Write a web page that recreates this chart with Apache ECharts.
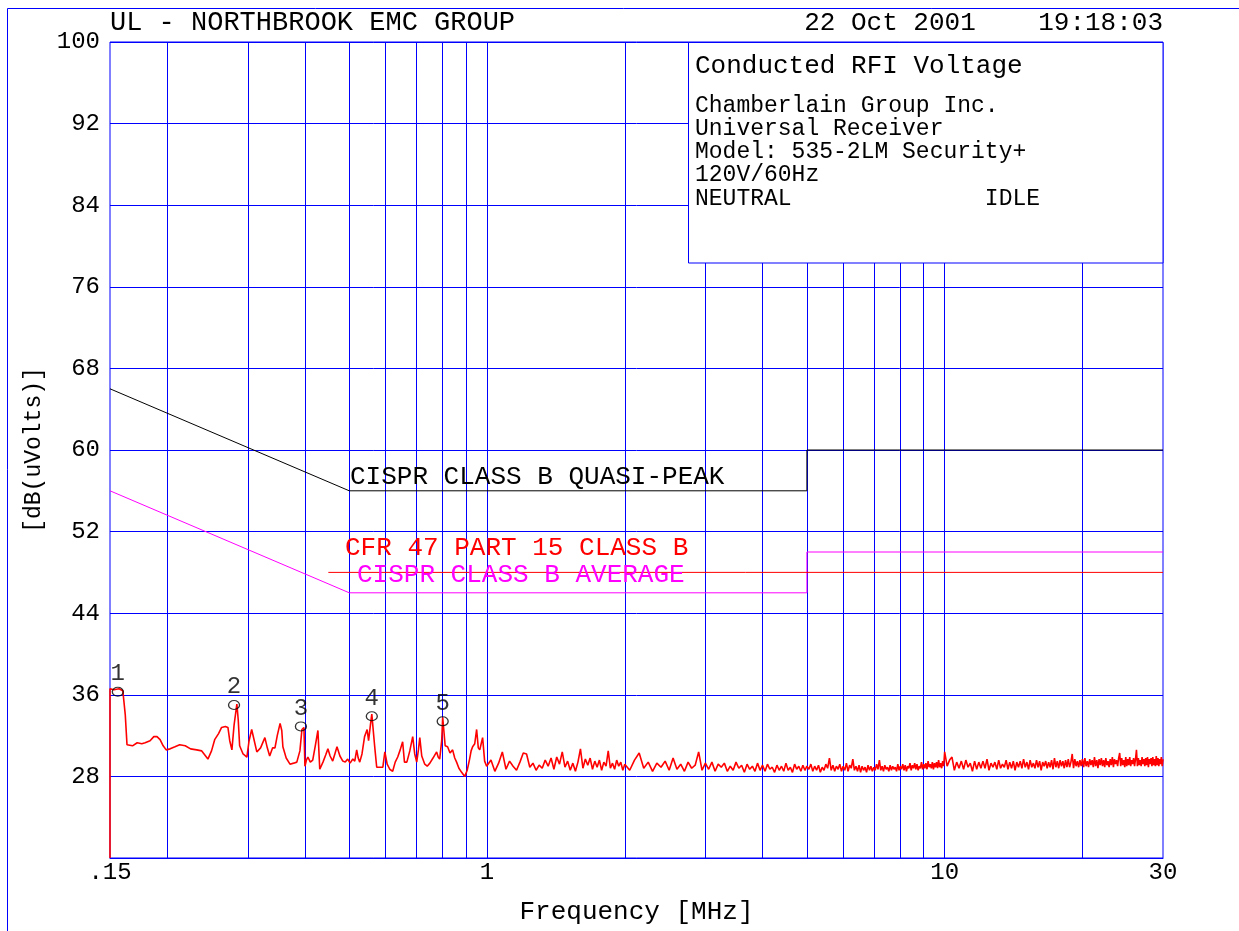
<!DOCTYPE html>
<html>
<head>
<meta charset="utf-8">
<title>Conducted RFI Voltage</title>
<script src="https://cdn.jsdelivr.net/npm/echarts@6/dist/echarts.min.js"></script>
<style>
  html, body { margin: 0; padding: 0; background: #fff; }
  #chart { width: 1239px; height: 931px; }
</style>
</head>
<body>
<div id="chart"></div>
<script>
// measured trace, 0.15 - 1 MHz
const lowFreq = [
  0.150,0.150,0.153,0.157,0.160,0.162,0.1634,0.168,0.172,0.176,
  0.179,0.1835,0.187,0.190,0.193,0.196,0.199,0.203,0.208,0.213,
  0.219,0.225,0.232,0.238,0.2455,0.250,0.254,0.259,0.263,0.268,
  0.2715,0.274,0.277,0.280,0.284,0.286,0.288,0.293,0.2987,0.302,
  0.306,0.310,0.314,0.320,0.327,0.331,0.335,0.340,0.344,0.348,
  0.353,0.356,0.358,0.364,0.371,0.378,0.384,0.390,0.394,0.398,
  0.400,0.403,0.406,0.411,0.416,0.421,0.427,0.431,0.438,0.444,
  0.449,0.454,0.460,0.465,0.470,0.477,0.484,0.490,0.496,0.502,
  0.509,0.514,0.519,0.523,0.527,0.533,0.540,0.547,0.551,0.556,
  0.560,0.563,0.568,0.574,0.583,0.592,0.598,0.605,0.613,0.622,
  0.630,0.638,0.646,0.654,0.660,0.668,0.678,0.688,0.695,0.702,
  0.708,0.713,0.720,0.731,0.740,0.750,0.762,0.776,0.782,0.788,
  0.796,0.800,0.804,0.810,0.820,0.830,0.841,0.850,0.858,0.868,
  0.880,0.894,0.905,0.916,0.923,0.930,0.940,0.949,0.957,0.964,
  0.971,0.978,0.988,0.998
];
const lowLevel = [
  20,36.6,36.5,36.6,36.4,34.0,31.1,31.0,31.3,31.2,
  31.3,31.5,31.9,31.9,31.6,31.0,30.6,30.7,30.9,31.1,
  31.0,30.7,30.6,30.5,29.7,30.5,31.6,32.2,32.8,32.9,
  32.8,31.5,30.6,33.0,35.1,33.5,31.0,30.2,29.9,31.5,
  32.6,31.5,30.4,30.8,31.8,30.8,30.0,30.8,30.8,32.0,
  33.2,32.5,30.9,29.8,29.2,29.3,29.4,30.5,32.6,32.8,
  29.0,29.6,29.9,29.4,29.6,30.9,32.5,28.7,29.4,30.1,
  30.7,30.0,29.5,30.2,30.9,30.0,29.5,29.4,29.7,29.3,
  29.7,29.5,30.6,29.8,29.4,30.2,31.9,32.6,31.5,33.0,
  34.1,34.0,31.0,28.9,28.9,28.9,30.4,29.2,28.7,28.5,
  29.4,29.9,30.6,31.4,29.4,29.4,30.5,31.9,30.2,29.4,
  30.6,31.8,30.0,29.2,29.0,29.3,29.8,30.4,29.9,29.7,
  31.5,33.8,33.9,31.0,30.9,30.3,30.6,29.8,29.4,28.8,
  28.4,28.0,28.6,29.7,30.5,30.9,31.2,32.6,30.8,30.6,
  31.2,31.8,29.5,29.0
];

// 1 - 5 MHz
const midFreq = [
  1.02,1.04,1.06,1.08,1.10,1.12,1.14,1.16,1.18,1.20,
  1.22,1.24,1.26,1.28,1.30,1.32,1.34,1.36,1.38,1.40,
  1.42,1.44,1.46,1.48,1.50,1.52,1.54,1.56,1.58,1.60,
  1.62,1.64,1.66,1.68,1.70,1.72,1.74,1.76,1.78,1.80,
  1.82,1.84,1.86,1.88,1.90,1.92,1.94,1.96,1.98,2.00,
  2.05,2.10,2.15,2.20,2.25,2.30,2.35,2.40,2.45,2.50,
  2.55,2.60,2.65,2.70,2.75,2.80,2.85,2.90,2.95,3.00,
  3.05,3.10,3.15,3.20,3.25,3.30,3.35,3.40,3.45,3.50,
  3.55,3.60,3.65,3.70,3.75,3.80,3.85,3.90,3.95,4.00,
  4.05,4.10,4.15,4.20,4.25,4.30,4.35,4.40,4.45,4.50,
  4.55,4.60,4.65,4.70,4.75,4.80,4.85,4.90,4.95,5.00
];
const midLevel = [
  29.6,28.5,29.3,30.4,28.7,29.5,29.0,28.6,29.4,30.3,
  30.2,28.9,29.3,28.6,29.1,28.8,29.6,29.0,29.8,28.7,
  29.9,29.2,30.4,28.9,29.5,28.6,29.3,28.5,29.4,30.7,
  28.8,29.7,29.1,29.8,28.7,29.5,28.9,29.6,28.6,29.4,
  29.0,30.5,28.8,29.3,28.7,29.6,29.0,29.4,28.6,29.2,
  28.6,29.6,30.3,28.8,29.4,28.5,29.3,28.9,29.5,28.6,
  29.8,28.7,29.2,28.5,29.4,28.8,29.1,30.4,28.6,29.3,
  28.7,29.4,28.5,29.2,28.9,29.3,28.5,29.0,28.6,29.4,
  28.8,29.1,28.4,29.2,28.7,29.0,28.5,29.3,28.6,29.1,
  28.5,29.2,28.7,28.9,28.4,29.1,28.6,29.0,28.5,29.3,
  28.6,28.9,28.4,29.2,28.7,29.0,28.5,29.1,28.6,29.0
];

// 5 - 10 MHz
const upperFreq = [
  5.05,5.10,5.15,5.20,5.25,5.30,5.35,5.40,5.45,5.50,
  5.55,5.60,5.65,5.70,5.75,5.80,5.85,5.90,5.95,6.00,
  6.05,6.10,6.15,6.20,6.25,6.30,6.35,6.40,6.45,6.50,
  6.55,6.60,6.65,6.70,6.75,6.80,6.85,6.90,6.95,7.00,
  7.05,7.10,7.15,7.20,7.25,7.30,7.35,7.40,7.45,7.50,
  7.55,7.60,7.65,7.70,7.75,7.80,7.85,7.90,7.95,8.00,
  8.05,8.10,8.15,8.20,8.25,8.30,8.35,8.40,8.45,8.50,
  8.55,8.60,8.65,8.70,8.75,8.80,8.85,8.90,8.95,9.00,
  9.05,9.10,9.15,9.20,9.25,9.30,9.35,9.40,9.45,9.50,
  9.55,9.60,9.65,9.70,9.75,9.80,9.85,9.90,9.95,10.00
];
const upperLevel = [
  28.7,29.2,28.5,29.0,28.6,29.1,28.4,28.9,28.6,29.2,
  28.8,29.8,28.6,29.1,28.5,29.0,28.7,29.2,28.5,29.0,
  28.6,29.3,28.5,29.1,28.8,29.7,28.6,29.0,28.5,29.1,
  28.4,29.0,28.6,28.9,28.4,29.1,28.6,29.0,28.5,28.9,
  28.6,29.2,28.7,29.6,28.6,29.0,28.5,29.1,28.7,28.9,
  28.5,29.1,28.6,29.0,28.7,28.9,28.5,29.2,28.6,29.0,
  28.7,29.2,28.6,29.1,28.5,29.0,28.8,29.3,28.6,29.1,
  28.8,29.3,28.7,29.2,28.6,29.0,28.8,29.4,28.7,29.2,
  28.8,29.3,28.7,29.5,28.9,29.2,28.8,29.4,28.7,29.3,
  28.9,29.4,28.8,29.6,28.9,29.3,28.8,29.5,29.0,30.4
];

// 10 - 30 MHz
const highFreq = [
  10.125,10.25,10.375,10.5,10.625,10.75,10.875,11,
  11.125,11.25,11.375,11.5,11.625,11.75,11.875,12,
  12.125,12.25,12.375,12.5,12.625,12.75,12.875,13,
  13.125,13.25,13.375,13.5,13.625,13.75,13.875,14,
  14.125,14.25,14.375,14.5,14.625,14.75,14.875,15,
  15.125,15.25,15.375,15.5,15.625,15.75,15.875,16,
  16.125,16.25,16.375,16.5,16.625,16.75,16.875,17,
  17.125,17.25,17.375,17.5,17.625,17.75,17.875,18,
  18.125,18.25,18.375,18.5,18.625,18.75,18.875,19,
  19.125,19.25,19.375,19.5,19.625,19.75,19.875,20,
  20.125,20.25,20.375,20.5,20.625,20.75,20.875,21,
  21.125,21.25,21.375,21.5,21.625,21.75,21.875,22,
  22.125,22.25,22.375,22.5,22.625,22.75,22.875,23,
  23.125,23.25,23.375,23.5,23.625,23.75,23.875,24,
  24.125,24.25,24.375,24.5,24.625,24.75,24.875,25,
  25.125,25.25,25.375,25.5,25.625,25.75,25.875,26,
  26.125,26.25,26.375,26.5,26.625,26.75,26.875,27,
  27.125,27.25,27.375,27.5,27.625,27.75,27.875,28,
  28.125,28.25,28.375,28.5,28.625,28.75,28.875,29,
  29.125,29.25,29.375,29.5,29.625,29.75,29.875,30
];
const highLevel = [
  29.0,29.6,29.9,28.6,29.4,28.8,29.5,28.7,
  29.6,28.9,29.3,28.5,29.5,28.7,29.4,28.8,
  29.5,28.8,29.7,28.6,29.3,28.9,29.4,28.7,
  29.6,28.8,29.2,28.9,29.6,28.7,29.4,28.8,
  29.5,28.6,29.4,28.9,29.5,28.8,29.7,28.9,
  29.4,28.7,29.6,28.9,29.3,28.8,29.6,28.9,
  29.5,28.6,29.4,29.0,29.5,28.8,29.4,28.9,
  29.6,28.7,29.8,28.9,29.5,28.8,29.6,29.0,
  29.5,28.8,29.6,28.9,29.7,28.9,29.4,30.2,
  28.8,29.7,29.0,29.5,28.9,29.6,29.0,29.7,
  28.9,29.8,29.0,29.5,28.9,29.7,29.1,29.6,
  28.9,29.9,29.0,29.6,28.8,29.7,29.1,29.8,
  29.0,29.6,28.9,29.8,29.1,29.5,28.9,29.7,
  29.1,29.9,28.9,29.7,29.2,29.6,29.0,29.8,
  30.3,29.0,29.8,29.1,29.6,28.9,29.9,29.0,
  29.7,29.1,29.9,29.0,29.6,29.2,29.8,29.0,
  29.7,30.6,29.0,29.8,29.1,29.6,29.0,29.9,
  29.2,29.7,29.0,29.8,29.1,29.9,28.9,29.7,
  29.2,29.8,29.0,29.9,29.1,29.7,29.0,30.0,
  29.1,29.8,29.0,29.7,29.2,29.9,29.0,29.7
];

// limit lines
const qpFreq = [0.15, 0.5, 5, 5, 30];
const qpLevel = [66, 56, 56, 60, 60];
const avgFreq = [0.15, 0.5, 5, 5, 30];
const avgLevel = [56, 46, 46, 50, 50];
const cfrFreq = [0.45, 30];
const cfrLevel = [48, 48];

// peak markers
const markerId = ['1', '2', '3', '4', '5'];
const markerFreq = [0.156, 0.280, 0.392, 0.560, 0.800];
const markerLevel = [36.3, 35.0, 32.9, 33.9, 33.4];

// axes
const xLabelValues = [0.15, 1, 10, 30];
const xGridValues = [0.2, 0.3, 0.4, 0.5, 0.6, 0.7, 0.8, 0.9, 1, 2, 3, 4, 5, 6, 7, 8, 9, 10, 20];

const FONT = '"Liberation Mono", "DejaVu Sans Mono", monospace';
const BLUE = '#0000ff';

function pairs(xs, ys) {
  return xs.map((x, i) => [x, ys[i]]);
}

const trace = pairs(lowFreq, lowLevel)
  .concat(pairs(midFreq, midLevel))
  .concat(pairs(upperFreq, upperLevel))
  .concat(pairs(highFreq, highLevel));

const myChart = echarts.init(document.getElementById('chart'));

const option = {
  animation: false,
  backgroundColor: '#fff',
  grid: {
    left: 110, top: 42, right: 76, bottom: 73,
    show: true, borderColor: BLUE, borderWidth: 1
  },
  xAxis: {
    type: 'log', logBase: 10, min: 0.15, max: 30,
    name: 'Frequency [MHz]', nameLocation: 'middle', nameGap: 41,
    nameTextStyle: { fontFamily: FONT, fontSize: 26, color: '#000' },
    axisLine: { lineStyle: { color: BLUE } },
    axisTick: { show: false, customValues: xGridValues },
    axisLabel: {
      customValues: xLabelValues,
      margin: 3, fontFamily: FONT, fontSize: 24, color: '#000',
      formatter: function (v) {
        const r = Math.round(v * 100) / 100;
        return r < 1 ? String(r).replace(/^0/, '') : String(r);
      }
    },
    splitLine: { show: true, lineStyle: { color: BLUE, width: 1 } }
  },
  yAxis: {
    type: 'value', min: 20, max: 100, interval: 8,
    name: '[dB(uVolts)]', nameLocation: 'middle', nameGap: 54, nameRotate: 90,
    nameTextStyle: { fontFamily: FONT, fontSize: 23, color: '#000' },
    axisLine: { show: false },
    axisTick: { show: false },
    axisLabel: {
      margin: 10, fontFamily: FONT, fontSize: 24, color: '#000',
      formatter: function (v) { return v === 20 ? '' : String(v); }
    },
    splitLine: { lineStyle: { color: BLUE, width: 1 } }
  },
  series: [
    {
      name: 'CISPR CLASS B QUASI-PEAK', type: 'line', data: pairs(qpFreq, qpLevel),
      showSymbol: false, silent: true, lineStyle: { color: '#000', width: 1 }, z: 3
    },
    {
      name: 'CISPR CLASS B AVERAGE', type: 'line', data: pairs(avgFreq, avgLevel),
      showSymbol: false, silent: true, lineStyle: { color: '#ff00ff', width: 1 }, z: 3
    },
    {
      name: 'CFR 47 PART 15 CLASS B', type: 'line', data: pairs(cfrFreq, cfrLevel),
      showSymbol: false, silent: true, lineStyle: { color: '#ff0000', width: 1 }, z: 3
    },
    {
      name: 'Trace', type: 'line', data: trace,
      showSymbol: false, silent: true, lineStyle: { color: '#ff0000', width: 1.6 }, z: 4
    },
    {
      name: 'Markers', type: 'scatter', data: pairs(markerFreq, markerLevel),
      symbol: 'circle', symbolSize: [11, 9], silent: true, z: 5,
      itemStyle: { color: 'rgba(0,0,0,0)', borderColor: '#000', borderWidth: 1.2 },
      label: {
        show: true, position: 'top', distance: 1,
        fontFamily: FONT, fontSize: 24, color: '#000',
        formatter: function (p) { return markerId[p.dataIndex]; }
      }
    }
  ],
  graphic: [
    // outer frame
    { type: 'line', shape: { x1: 7.5, y1: 8.5, x2: 1239, y2: 8.5 }, style: { stroke: BLUE, lineWidth: 1 }, z: 50 },
    { type: 'line', shape: { x1: 7.5, y1: 8.5, x2: 7.5, y2: 931 }, style: { stroke: BLUE, lineWidth: 1 }, z: 50 },
    { type: 'text', x: 110, y: 23, z: 50,
      style: { text: 'UL - NORTHBROOK EMC GROUP', font: '27px ' + FONT, fill: '#000', textVerticalAlign: 'middle' } },
    { type: 'text', x: 1163, y: 23, z: 50,
      style: { text: '22 Oct 2001    19:18:03', font: '26px ' + FONT, fill: '#000', textAlign: 'right', textVerticalAlign: 'middle' } },
    // info box
    { type: 'rect', shape: { x: 688.5, y: 42.5, width: 474.5, height: 220.5 },
      style: { fill: '#fff', stroke: BLUE, lineWidth: 1 }, z: 100 },
    { type: 'text', x: 695, y: 66, z: 101,
      style: { text: 'Conducted RFI Voltage', font: '26px ' + FONT, fill: '#000', textVerticalAlign: 'middle' } },
    { type: 'text', x: 695, y: 106, z: 101,
      style: { text: 'Chamberlain Group Inc.', font: '23px ' + FONT, fill: '#000', textVerticalAlign: 'middle' } },
    { type: 'text', x: 695, y: 129, z: 101,
      style: { text: 'Universal Receiver', font: '23px ' + FONT, fill: '#000', textVerticalAlign: 'middle' } },
    { type: 'text', x: 695, y: 152, z: 101,
      style: { text: 'Model: 535-2LM Security+', font: '23px ' + FONT, fill: '#000', textVerticalAlign: 'middle' } },
    { type: 'text', x: 695, y: 175, z: 101,
      style: { text: '120V/60Hz', font: '23px ' + FONT, fill: '#000', textVerticalAlign: 'middle' } },
    { type: 'text', x: 695, y: 199, z: 101,
      style: { text: 'NEUTRAL              IDLE', font: '23px ' + FONT, fill: '#000', textVerticalAlign: 'middle' } },
    // limit line captions
    { type: 'text', x: 350, y: 477, z: 101,
      style: { text: 'CISPR CLASS B QUASI-PEAK', font: '26px ' + FONT, fill: '#000', textVerticalAlign: 'middle' } },
    { type: 'text', x: 345, y: 548, z: 101,
      style: { text: 'CFR 47 PART 15 CLASS B', font: '26px ' + FONT, fill: '#ff0000', textVerticalAlign: 'middle' } },
    { type: 'text', x: 357, y: 575, z: 101,
      style: { text: 'CISPR CLASS B AVERAGE', font: '26px ' + FONT, fill: '#ff00ff', textVerticalAlign: 'middle' } }
  ]
};

myChart.setOption(option);
</script>
</body>
</html>
